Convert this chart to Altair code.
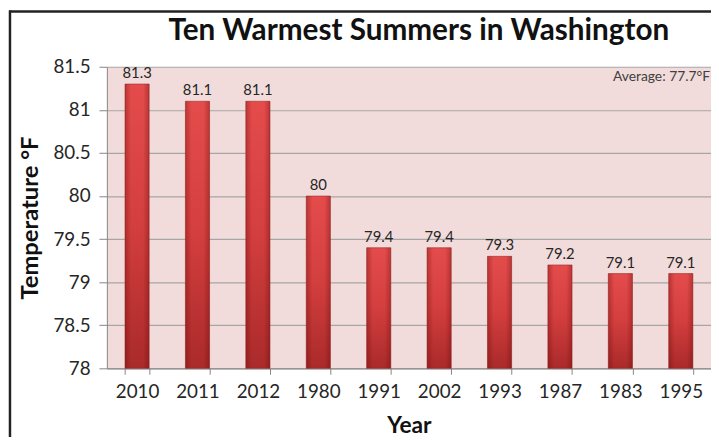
import altair as alt
import pandas as pd

years = ["2010", "2011", "2012", "1980", "1991", "2002", "1993", "1987", "1983", "1995"]
temps = [81.3, 81.1, 81.1, 80.0, 79.4, 79.4, 79.3, 79.2, 79.1, 79.1]
y_ticks = [78, 78.5, 79, 79.5, 80, 80.5, 81, 81.5]
title_text = "Ten Warmest Summers in Washington"
avg_text = "Average: 77.7°F"

df = pd.DataFrame({"Year": years, "Temp": temps, "Base": [78] * len(years)})
one = pd.DataFrame({"a": [0]})

FONT = "Lato"
W, H = 611, 305

x_enc = alt.X("Year:N", sort=years,
              scale=alt.Scale(paddingInner=0.6, paddingOuter=0.3),
              axis=alt.Axis(title="Year", labelAngle=0, labelFont=FONT, labelFontSize=19,
                            labelColor="#262626", labelPadding=8, tickBand="extent",
                            tickSize=6, tickColor="#868686", domainColor="#868686",
                            titleFont=FONT, titleFontSize=23, titleFontWeight="bold",
                            titleColor="#111111", titleX=W / 2, titleY=58,
                            titleBaseline="middle", grid=False))
y_enc = alt.Y("Temp:Q", scale=alt.Scale(domain=[78, 81.5], zero=False, nice=False),
              axis=alt.Axis(title="Temperature °F", values=y_ticks, format="~g", labelFont=FONT,
                            labelFontSize=19, labelColor="#262626", labelPadding=9,
                            tickSize=8, tickColor="#868686", domainColor="#868686",
                            gridColor="#a6a6a6", gridWidth=1.2,
                            titleFont=FONT, titleFontSize=24, titleFontWeight="bold",
                            titleColor="#111111", titleX=-77, titleY=H / 2,
                            titleAlign="center", titleBaseline="middle", titleAngle=-90))

base = alt.Chart(df)

bars = base.mark_bar(
    color=alt.Gradient(gradient="linear",
                       stops=[alt.GradientStop(offset=0, color="#e44c4c"),
                              alt.GradientStop(offset=0.5, color="#d33e3e"),
                              alt.GradientStop(offset=1, color="#aa2a2a")],
                       x1=0, x2=0, y1=0, y2=1),
    stroke="#9a2f2f", strokeWidth=0.6,
).encode(x=x_enc, y=y_enc, y2="Base:Q")

shade = base.mark_bar(
    color=alt.Gradient(gradient="linear",
                       stops=[alt.GradientStop(offset=0, color="rgba(90,0,0,0.3)"),
                              alt.GradientStop(offset=0.25, color="rgba(90,0,0,0)"),
                              alt.GradientStop(offset=0.75, color="rgba(90,0,0,0)"),
                              alt.GradientStop(offset=1, color="rgba(90,0,0,0.3)")],
                       x1=0, x2=1, y1=0, y2=0),
).encode(x=alt.X("Year:N", sort=years), y="Temp:Q", y2="Base:Q")

labels = base.mark_text(font=FONT, fontSize=15, color="#262626", baseline="alphabetic", dy=-6).encode(
    x=alt.X("Year:N", sort=years), y="Temp:Q", text=alt.Text("Temp:Q", format="~g"))

title = alt.Chart(one).mark_text(text=title_text, font=FONT, fontSize=30, fontWeight="bold",
                                 color="#111111", baseline="alphabetic", align="center").encode(
    x=alt.value(W / 2 + 10), y=alt.value(-27))

avg = alt.Chart(one).mark_text(text=avg_text, font=FONT, fontSize=14, color="#404040",
                               align="right", baseline="middle").encode(
    x=alt.value(W - 1), y=alt.value(10))

border_top = alt.Chart(one).mark_rule(color="#222222", strokeWidth=2.5).encode(
    x=alt.value(-99), x2=alt.value(W + 2), y=alt.value(-56))
border_left = alt.Chart(one).mark_rule(color="#222222", strokeWidth=2.5).encode(
    x=alt.value(-98), y=alt.value(-57), y2=alt.value(H + 70))

chart = alt.layer(bars, shade, labels, title, avg, border_top, border_left).properties(
    width=W, height=H,
    autosize=alt.AutoSizeParams(type="none"),
    padding={"left": 100, "top": 57, "right": 0, "bottom": 67},
    background="white",
).configure_view(fill="#f2dcdb", stroke="transparent")

chart.save("out.html", embed_options={"renderer": "svg", "actions": False})
